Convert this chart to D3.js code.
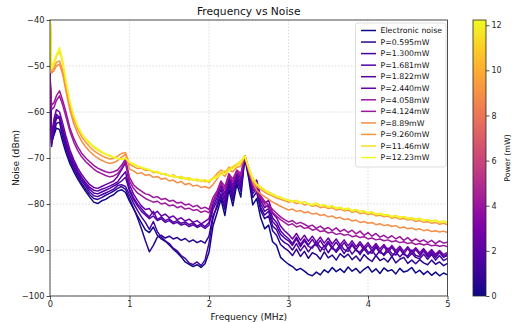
<!DOCTYPE html>
<html><head><meta charset="utf-8">
<script src="https://cdn.jsdelivr.net/npm/d3@7"></script>
<style>body{margin:0;background:#fff}svg{display:block;font-family:"DejaVu Sans",sans-serif}</style>
</head><body><svg id="c" width="512" height="322"></svg>
<script>
const freqs = [0,0.02,0.05,0.08,0.12,0.16,
0.2,0.25,0.3,0.35,0.4,0.45,0.5,0.55,0.6,0.65,
0.7,0.75,0.8,0.85,0.9,0.95,1.0,1.05,1.1,1.15,
1.2,1.25,1.3,1.35,1.4,1.45,1.5,1.55,1.6,1.65,
1.7,1.75,1.8,1.85,1.9,1.95,2.0,2.05,2.1,2.15,
2.2,2.25,2.3,2.35,2.4,2.45,2.5,2.55,2.6,2.65,
2.7,2.75,2.8,2.85,2.9,2.95,3.0,3.05,3.1,3.15,
3.2,3.25,3.3,3.35,3.4,3.45,3.5,3.55,3.6,3.65,
3.7,3.75,3.8,3.85,3.9,3.95,4.0,4.05,4.1,4.15,
4.2,4.25,4.3,4.35,4.4,4.45,4.5,4.55,4.6,4.65,
4.7,4.75,4.8,4.85,4.9,4.95,5.0];

const seriesLabels = ["Electronic noise","P=0.595mW","P=1.300mW","P=1.681mW","P=1.822mW","P=2.440mW","P=4.058mW","P=4.124mW","P=8.89mW","P=9.260mW","P=11.46mW","P=12.23mW"];
const seriesPowers = [0,0.595,1.300,1.681,1.822,2.440,4.058,4.124,8.89,9.260,11.46,12.23];

const noiseEN = [-52,-66.5,-65,-63.5,-63.8,-66.5,
-68.8,-71.2,-73.0,-74.6,-76.0,-77.3,-78.5,-79.6,-79.9,-79.3,
-79.0,-78.4,-78.0,-77.2,-76.9,-77.5,-79.4,-81.0,-82.6,-84.1,
-85.6,-86.2,-85.0,-86.8,-87.6,-88.1,-88.9,-89.8,-90.6,-91.5,
-92.6,-93.1,-93.6,-93.2,-93.8,-93.0,-90.5,-84.8,-82.0,-79.0,
-82.5,-76.8,-80.4,-75.6,-78.5,-70.0,-74.5,-80.2,-78.8,-83.0,
-85.4,-84.6,-88.2,-89.0,-91.6,-92.4,-93.1,-93.6,-94.4,-94.0,
-94.6,-95.3,-95.6,-94.8,-95.4,-94.3,-94.9,-93.8,-94.7,-94.1,
-94.9,-93.7,-94.6,-94.0,-95.0,-94.2,-93.6,-94.8,-94.1,-95.1,
-93.9,-94.6,-94.3,-95.2,-94.0,-94.8,-94.5,-93.8,-95.0,-94.4,
-95.3,-94.6,-95.5,-94.8,-95.6,-95.0,-95.4];
const noiseP0595 = [-51.5,-67,-64.5,-62.5,-62.2,-65.5,
-68.0,-70.6,-72.5,-74.0,-75.6,-76.8,-78.0,-78.8,-79.0,-78.6,
-78.1,-77.7,-77.2,-76.6,-76.2,-76.8,-78.8,-80.8,-83.0,-85.4,
-88.0,-90.4,-89.0,-87.2,-86.8,-87.4,-87.0,-87.6,-87.3,-87.9,
-87.5,-88.2,-87.8,-88.4,-88.0,-88.5,-87.0,-82.5,-80.8,-78.2,
-81.2,-75.8,-79.2,-74.8,-77.2,-69.8,-73.8,-78.6,-77.4,-81.4,
-83.2,-82.6,-85.8,-86.8,-88.8,-89.6,-90.2,-91.2,-89.8,-91.4,
-90.3,-91.8,-90.6,-91.0,-92.0,-90.4,-91.7,-91.1,-92.2,-90.8,
-91.6,-90.9,-92.1,-91.3,-92.4,-91.0,-91.9,-92.5,-91.2,-92.3,
-91.8,-92.6,-91.4,-92.8,-92.0,-91.6,-92.9,-92.2,-93.0,-92.1,
-92.8,-93.2,-92.2,-93.1,-92.6,-93.4,-92.9];
const noiseP1300 = [-52,-66,-63.5,-61.5,-61.0,-64.5,
-67.4,-70.2,-72.0,-73.6,-75.0,-76.2,-77.4,-78.2,-78.4,-78.0,
-77.6,-77.2,-76.8,-76.0,-75.8,-76.2,-78.0,-79.8,-81.4,-82.8,
-84.0,-85.5,-83.8,-86.0,-87.2,-88.0,-88.6,-89.6,-90.2,-91.2,
-91.8,-92.8,-93.2,-92.6,-93.4,-92.2,-88.5,-83.2,-80.2,-77.8,
-80.6,-75.2,-78.4,-74.6,-76.8,-69.7,-73.4,-77.8,-76.6,-80.8,
-82.4,-81.6,-84.8,-85.6,-87.6,-88.4,-88.9,-90.0,-88.6,-90.2,
-89.0,-90.4,-89.2,-88.7,-90.3,-89.0,-90.6,-89.3,-90.5,-89.4,
-90.8,-89.5,-90.9,-89.8,-91.0,-89.7,-90.9,-90.0,-91.3,-90.1,
-91.2,-90.2,-91.4,-90.4,-91.5,-90.6,-91.7,-90.7,-91.6,-91.9,
-90.9,-92.0,-91.0,-92.2,-91.2,-92.3,-91.8];
const noiseP1681 = [-52.5,-67.5,-63,-61,-61.5,-64,
-66.8,-69.6,-71.5,-73.2,-74.6,-75.8,-76.8,-77.6,-77.8,-77.4,
-77.0,-76.6,-76.1,-75.6,-75.0,-74.2,-77.2,-79.0,-80.4,-81.6,
-82.4,-83.2,-82.6,-83.6,-83.2,-84.0,-83.6,-84.3,-84.0,-84.6,
-84.3,-84.9,-84.5,-85.1,-84.7,-85.3,-84.6,-81.2,-79.4,-76.8,
-79.8,-74.6,-77.6,-74.0,-76.2,-69.6,-73.0,-77.2,-76.0,-80.0,
-81.6,-81.0,-83.8,-84.8,-86.6,-87.4,-88.0,-89.0,-87.6,-89.3,
-88.0,-89.2,-89.6,-88.2,-89.4,-90.0,-88.5,-89.7,-90.1,-88.8,
-89.9,-90.3,-88.9,-90.1,-90.5,-89.2,-90.4,-90.7,-89.4,-90.6,
-90.9,-89.6,-90.8,-91.1,-89.8,-91.0,-91.3,-90.0,-91.2,-91.4,
-90.2,-91.5,-90.6,-91.7,-90.5,-91.6,-91.2];
const noiseP1822 = [-52,-66,-62.5,-60.5,-61.2,-63.5,
-66.2,-69.0,-71.0,-72.8,-74.2,-75.4,-76.4,-77.0,-77.2,-76.8,
-76.5,-76.1,-75.7,-75.2,-74.0,-73.0,-76.8,-78.6,-80.0,-81.0,
-82.0,-82.8,-81.6,-83.4,-82.8,-83.6,-83.2,-84.0,-83.6,-84.2,
-83.9,-84.5,-84.1,-84.8,-84.3,-84.9,-84.0,-80.6,-78.6,-76.0,
-78.8,-74.0,-76.8,-73.4,-75.4,-69.6,-72.6,-76.6,-75.4,-79.2,
-80.8,-80.2,-83.0,-84.0,-85.8,-86.8,-87.5,-88.6,-87.2,-88.8,
-87.6,-88.9,-87.7,-89.1,-87.9,-89.3,-88.1,-89.4,-88.3,-89.6,
-88.4,-89.7,-88.6,-89.9,-88.7,-90.0,-88.9,-90.2,-89.0,-90.4,
-89.2,-90.5,-89.4,-90.6,-89.6,-90.8,-89.7,-90.9,-89.9,-91.0,
-90.0,-91.2,-90.2,-91.3,-90.3,-91.4,-90.9];
const noiseP2440 = [-52,-65,-61.5,-59.5,-60.0,-62.5,
-65.2,-68.2,-70.4,-72.2,-73.6,-74.8,-75.8,-76.4,-76.6,-76.2,
-75.8,-75.4,-75.0,-74.0,-72.6,-71.0,-75.8,-77.8,-79.2,-80.4,
-81.2,-81.0,-82.2,-81.6,-82.6,-82.2,-83.0,-82.6,-83.4,-83.0,
-83.7,-83.3,-84.0,-83.6,-84.3,-83.8,-83.2,-79.8,-77.8,-75.4,
-77.8,-73.6,-76.0,-72.8,-74.6,-69.5,-72.2,-75.8,-74.8,-78.4,
-79.8,-79.2,-82.0,-83.0,-84.8,-85.8,-86.6,-87.6,-86.4,-87.9,
-86.8,-88.1,-87.0,-88.3,-87.2,-88.5,-87.4,-88.7,-87.6,-88.9,
-87.8,-89.1,-88.0,-89.3,-88.2,-89.4,-88.4,-89.6,-88.6,-89.8,
-88.8,-90.0,-89.0,-90.1,-89.2,-90.3,-89.3,-90.4,-89.5,-90.6,
-89.7,-90.8,-89.9,-90.9,-90.1,-91.0,-90.5];
const noiseP4058 = [-52,-58.5,-58,-56.5,-55.4,-57.5,
-60.0,-63.4,-65.8,-67.6,-69.0,-70.0,-70.8,-71.6,-72.2,-72.6,
-73.0,-73.2,-73.0,-72.6,-71.6,-70.2,-74.2,-75.8,-76.6,-77.2,
-77.8,-78.0,-78.6,-78.4,-79.0,-78.8,-79.4,-79.2,-79.8,-79.6,
-80.2,-80.0,-80.6,-80.3,-81.0,-80.7,-81.2,-78.6,-77.2,-75.0,
-76.2,-73.4,-74.6,-72.6,-73.4,-69.5,-72.4,-75.4,-76.8,-78.2,
-79.4,-80.2,-81.2,-82.0,-82.8,-83.4,-83.9,-83.6,-84.3,-84.0,
-84.4,-84.9,-84.6,-85.3,-84.8,-85.5,-85.1,-85.8,-85.2,-86.0,
-85.5,-86.2,-85.7,-86.5,-85.9,-86.8,-86.2,-87.0,-86.4,-87.2,
-86.8,-87.4,-86.9,-87.6,-87.1,-87.9,-87.3,-88.1,-87.6,-88.2,
-87.8,-88.4,-87.9,-88.6,-88.0,-88.5,-88.3];
const noiseP4124 = [-52,-59.5,-59,-57.5,-56.5,-58.5,
-61.0,-64.2,-66.6,-68.4,-69.8,-70.8,-71.6,-72.4,-73.0,-73.4,
-73.8,-74.1,-73.9,-73.4,-72.2,-70.6,-75.0,-76.6,-77.6,-78.2,
-78.8,-79.2,-79.6,-79.4,-80.0,-79.8,-80.4,-80.2,-80.8,-80.5,
-81.1,-80.9,-81.4,-81.2,-81.8,-81.5,-81.9,-79.4,-77.6,-75.6,
-76.8,-73.8,-75.2,-73.0,-73.8,-69.6,-72.8,-76.0,-77.4,-78.8,
-80.0,-80.8,-81.8,-82.6,-83.4,-84.0,-84.6,-84.3,-85.0,-84.7,
-85.3,-85.1,-85.7,-85.4,-86.0,-85.8,-86.3,-86.1,-86.6,-86.4,
-86.8,-86.6,-87.1,-86.9,-87.3,-87.1,-87.6,-87.4,-87.8,-87.6,
-88.0,-87.8,-88.2,-88.0,-88.4,-88.2,-88.6,-88.4,-88.8,-88.6,
-88.9,-88.7,-89.1,-88.9,-89.2,-89.0,-89.3];
const noiseP889 = [-38,-51.5,-51,-50,-49.6,-51.8,
-55.4,-59.6,-62.6,-64.8,-66.4,-67.6,-68.6,-69.4,-70.0,-70.5,
-70.9,-71.2,-71.0,-70.6,-69.8,-69.2,-72.4,-72.8,-73.4,-73.2,
-73.8,-73.6,-74.2,-74.0,-74.6,-74.4,-75.0,-74.8,-75.4,-75.1,
-75.8,-75.5,-76.1,-75.9,-76.4,-76.2,-76.6,-75.8,-74.6,-73.2,
-74.0,-72.6,-73.0,-72.0,-71.8,-69.6,-72.8,-75.2,-77.0,-77.8,
-78.4,-79.0,-79.6,-80.0,-80.5,-80.9,-81.3,-81.1,-81.6,-81.4,
-81.9,-81.7,-82.2,-82.0,-82.5,-82.3,-82.8,-82.6,-83.1,-82.9,
-83.4,-83.2,-83.7,-83.5,-84.0,-83.8,-84.2,-84.0,-84.5,-84.3,
-84.7,-84.5,-84.9,-84.7,-85.2,-85.0,-85.4,-85.2,-85.6,-85.4,
-85.8,-85.6,-86.0,-85.8,-86.1,-85.9,-86.2];
const noiseP926 = [-38,-51,-50.5,-49.2,-48.9,-51,
-54.4,-58.6,-61.6,-63.8,-65.4,-66.6,-67.6,-68.4,-69.0,-69.5,
-69.9,-70.2,-70.1,-69.6,-69.0,-68.8,-71.4,-71.8,-72.3,-72.2,
-72.7,-72.6,-73.2,-73.0,-73.5,-73.4,-73.9,-73.7,-74.2,-74.0,
-74.5,-74.3,-74.8,-74.6,-75.1,-74.8,-75.3,-74.4,-73.4,-72.6,
-73.2,-72.0,-72.2,-71.4,-71.2,-69.5,-72.4,-74.8,-76.2,-76.8,
-77.4,-77.9,-78.3,-78.7,-79.0,-79.3,-79.6,-79.4,-79.9,-79.7,
-80.2,-80.0,-80.5,-80.3,-80.8,-80.6,-81.0,-80.8,-81.3,-81.1,
-81.5,-81.3,-81.8,-81.6,-82.1,-81.9,-82.3,-82.1,-82.6,-82.4,
-82.8,-82.6,-83.1,-82.9,-83.3,-83.1,-83.5,-83.3,-83.8,-83.6,
-84.0,-83.8,-84.2,-84.0,-84.4,-84.2,-84.5];
const noiseP1146 = [-38,-50.8,-49.5,-48,-46.8,-49.4,
-53.4,-57.8,-61.0,-63.2,-64.8,-66.0,-66.9,-67.7,-68.3,-68.8,
-69.2,-69.6,-69.9,-70.1,-70.2,-70.0,-70.9,-71.4,-71.7,-72.1,
-72.3,-72.7,-72.9,-73.2,-73.3,-73.7,-73.8,-74.1,-74.2,-74.5,
-74.4,-74.8,-74.6,-75.0,-74.8,-75.2,-74.9,-74.3,-73.8,-73.2,
-72.8,-72.4,-71.8,-71.3,-70.6,-69.6,-72.0,-74.3,-75.6,-76.3,
-76.9,-77.4,-77.8,-78.3,-78.5,-78.9,-79.1,-79.4,-79.2,-79.7,
-79.5,-80.0,-80.1,-79.8,-80.3,-80.2,-80.6,-80.4,-80.9,-80.7,
-81.1,-80.9,-81.4,-81.2,-81.6,-81.5,-81.9,-81.7,-82.2,-82.0,
-82.4,-82.3,-82.7,-82.5,-82.9,-82.7,-83.1,-83.0,-83.3,-83.1,
-83.5,-83.4,-83.7,-83.5,-83.9,-83.7,-84.0];
const noiseP1223 = [-38,-50.5,-49,-47.5,-46.0,-48.8,
-53.0,-57.6,-60.8,-63.1,-64.7,-65.8,-66.6,-67.5,-68.0,-68.6,
-69.1,-69.4,-69.8,-70.1,-70.3,-70.1,-70.9,-71.3,-71.8,-72.0,
-72.4,-72.5,-73.0,-72.9,-73.4,-73.5,-73.9,-73.8,-74.2,-74.1,
-74.5,-74.3,-74.8,-74.6,-75.0,-74.7,-75.1,-74.6,-74.2,-73.6,
-73.4,-72.8,-72.3,-71.7,-71.0,-69.6,-72.2,-74.6,-75.8,-76.5,
-77.0,-77.6,-77.9,-78.4,-78.6,-79.0,-79.2,-79.5,-79.3,-79.8,
-79.6,-80.0,-80.2,-79.9,-80.4,-80.3,-80.7,-80.5,-81.0,-80.8,
-81.2,-81.0,-81.5,-81.3,-81.7,-81.6,-82.0,-81.8,-82.3,-82.1,
-82.5,-82.4,-82.8,-82.6,-83.0,-82.8,-83.2,-83.1,-83.4,-83.2,
-83.6,-83.5,-83.8,-83.6,-84.0,-83.8,-84.1];

const seriesValues = [noiseEN,noiseP0595,noiseP1300,noiseP1681,noiseP1822,noiseP2440,noiseP4058,noiseP4124,noiseP889,noiseP926,noiseP1146,noiseP1223];

const xTicks = [0,1,2,3,4,5];
const yTicks = [-100,-90,-80,-70,-60,-50,-40];
const cbTicks = [0,2,4,6,8,10,12];
const powerMax = 12.23;

const svg = d3.select('#c');
const L = 50, R = 447.5, T = 20, B = 296;
const x = d3.scaleLinear().domain([0,5]).range([L,R]);
const y = d3.scaleLinear().domain([-100,-40]).range([B,T]);
const cScale = d3.scaleSequential(d3.interpolatePlasma).domain([0,powerMax]);
const ink = '#262626';

svg.append('rect').attr('width',512).attr('height',322).attr('fill','#fff');

const grid = svg.append('g').attr('stroke','#c8c8c8').attr('stroke-width',0.6).attr('stroke-dasharray','1.6,1.6');
xTicks.forEach(t=>grid.append('line').attr('x1',x(t)).attr('x2',x(t)).attr('y1',T).attr('y2',B));
yTicks.forEach(t=>grid.append('line').attr('y1',y(t)).attr('y2',y(t)).attr('x1',L).attr('x2',R));

svg.append('clipPath').attr('id','clip').append('rect').attr('x',L).attr('y',T).attr('width',R-L).attr('height',B-T);

const line = d3.line().x((d,i)=>x(freqs[i])).y(d=>y(d));
const lines = svg.append('g').attr('clip-path','url(#clip)');
seriesValues.forEach((vals,k)=>{
  lines.append('path').attr('d',line(vals)).attr('fill','none')
    .attr('stroke',cScale(seriesPowers[k])).attr('stroke-width',1.5).attr('stroke-linejoin','round');
});

svg.append('rect').attr('x',L).attr('y',T).attr('width',R-L).attr('height',B-T).attr('fill','none').attr('stroke',ink).attr('stroke-width',0.8);

const fmt = d3.format('d');
const xa = svg.append('g').attr('transform',`translate(0,${B})`)
  .call(d3.axisBottom(x).tickValues(xTicks).tickFormat(fmt).tickSize(3.5).tickPadding(2));
const ya = svg.append('g').attr('transform',`translate(${L},0)`)
  .call(d3.axisLeft(y).tickValues(yTicks).tickFormat(fmt).tickSize(3.5).tickPadding(2));
[xa,ya].forEach(a=>{
  a.select('.domain').remove();
  a.selectAll('line').attr('stroke',ink).attr('stroke-width',0.8);
  a.selectAll('text').attr('fill',ink).style('font-size','8.3px').style('font-family','"DejaVu Sans"');
});

svg.append('text').attr('x',(L+R)/2).attr('y',15).attr('text-anchor','middle')
  .style('font-size','10.7px').attr('fill','#111').text('Frequency vs Noise');
svg.append('text').attr('x',(L+R)/2).attr('y',320).attr('text-anchor','middle')
  .style('font-size','9.1px').attr('fill','#111').text('Frequency (MHz)');
svg.append('text').attr('transform',`translate(19,${(T+B)/2}) rotate(-90)`).attr('text-anchor','middle')
  .style('font-size','9.1px').attr('fill','#111').text('Noise (dBm)');

const lg = svg.append('g');
lg.append('rect').attr('x',355.5).attr('y',23).attr('width',90.5).attr('height',144).attr('rx',2.5)
  .attr('fill','#fff').attr('fill-opacity',0.85).attr('stroke','#d0d0d0').attr('stroke-width',0.7);
seriesLabels.forEach((lab,k)=>{
  const cy = 30.5 + k*11.55;
  lg.append('line').attr('x1',361).attr('x2',376).attr('y1',cy).attr('y2',cy)
    .attr('stroke',cScale(seriesPowers[k])).attr('stroke-width',1.5);
  lg.append('text').attr('x',380.5).attr('y',cy).attr('dy','0.35em')
    .style('font-size','7.8px').attr('fill','#111').text(lab);
});

const cbX = 473, cbW = 13;
const cb = d3.scaleLinear().domain([0,powerMax]).range([B,T]);
const grad = svg.append('defs').append('linearGradient').attr('id','plasma')
  .attr('x1',0).attr('y1',1).attr('x2',0).attr('y2',0);
d3.range(0,1.0001,0.05).forEach(s=>grad.append('stop').attr('offset',s).attr('stop-color',d3.interpolatePlasma(s)));
svg.append('rect').attr('x',cbX).attr('y',T).attr('width',cbW).attr('height',B-T).attr('fill','url(#plasma)')
  .attr('stroke',ink).attr('stroke-width',0.8);
const ca = svg.append('g').attr('transform',`translate(${cbX+cbW},0)`)
  .call(d3.axisRight(cb).tickValues(cbTicks).tickFormat(fmt).tickSize(3.5).tickPadding(2));
ca.select('.domain').remove();
ca.selectAll('line').attr('stroke',ink).attr('stroke-width',0.8);
ca.selectAll('text').attr('fill',ink).style('font-size','8px').style('font-family','"DejaVu Sans"');
svg.append('text').attr('transform',`translate(510,${(T+B)/2}) rotate(-90)`).attr('text-anchor','middle')
  .style('font-size','7.8px').attr('fill','#111').text('Power (mW)');
</script></body></html>
